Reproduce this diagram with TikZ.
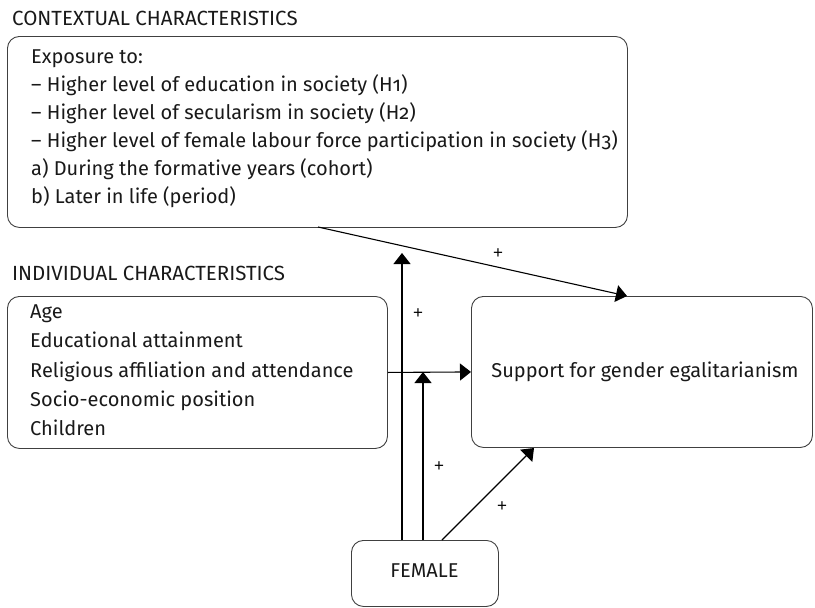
\documentclass[tikz,border=0pt]{standalone}
\usepackage{fontspec}
\setmainfont{Fira Sans}[Numbers=OldStyle]
\newfontfamily\plusfont{Liberation Sans}
\usetikzlibrary{arrows.meta}
\begin{document}
\begin{tikzpicture}[x=1pt,y=-1pt,
  box/.style={draw=black!75, line width=0.9pt, rounded corners=12pt, inner sep=0pt},
  txt/.style={anchor=base west, inner sep=0pt, font=\fontsize{20}{24}\selectfont, text=black!90},
  ttl/.style={txt, font=\fontsize{20.5}{24}\selectfont},
  arr/.style={draw=black, line width=1.1pt, -{Triangle[length=11pt,width=17pt]}},
  plus/.style={inner sep=0pt, font=\plusfont\fontsize{17}{20}\selectfont}]
\useasboundingbox (0,0) rectangle (815,608);
% titles
\node[ttl] (t1) at (12,25) {CONTEXTUAL CHARACTERISTICS};
\node[ttl] (t2) at (12,280) {INDIVIDUAL CHARACTERISTICS};
% boxes
\node[box, anchor=north west, minimum width=620pt, minimum height=191pt] (ctx) at (7,36) {};
\node[box, anchor=north west, minimum width=380pt, minimum height=152pt] (ind) at (7,296) {};
\node[box, anchor=north west, minimum width=341pt, minimum height=151pt] (sup) at (471,296) {};
\node[box, anchor=north west, minimum width=147pt, minimum height=66pt] (fem) at (351,540) {};
% box texts
\node[txt] (c1) at (31,63) {Exposure to:};
\node[txt] (c2) at (31,91) {– Higher level of education in society (H1)};
\node[txt] (c3) at (31,119) {– Higher level of secularism in society (H2)};
\node[txt] (c4) at (31,147) {– Higher level of female labour force participation in society (H3)};
\node[txt] (c5) at (31,175) {a) During the formative years (cohort)};
\node[txt] (c6) at (31,203) {b) Later in life (period)};
\node[txt] (i1) at (30,318) {Age};
\node[txt] (i2) at (30,347) {Educational attainment};
\node[txt] (i3) at (30,377) {Religious affiliation and attendance};
\node[txt] (i4) at (30,406) {Socio-economic position};
\node[txt] (i5) at (30,435) {Children};
\node[txt, anchor=base] (s1) at (645,377) {Support for gender egalitarianism};
\node[txt, anchor=base] (f1) at (424.5,577) {FEMALE};
% connector end points
\coordinate (a1s) at (318,227);
\coordinate (a1e) at (627,296);
\coordinate (a2s) at (402,540);
\coordinate (a2e) at (402,253);
\coordinate (a4s) at (423,540);
\coordinate (a4e) at (423,372);
\coordinate (a5s) at (442,540);
\coordinate (a5e) at (534,448);
% connectors
\draw[arr] (a1s) -- (a1e);
\draw[arr] (a2s) -- (a2e);
\draw[arr] (ind.east) -- (sup.west);
\draw[arr] (a4s) -- (a4e);
\draw[arr] (a5s) -- (a5e);
% labels
\node[plus] (p1) at (498,254) {+};
\node[plus] (p2) at (418,314) {+};
\node[plus] (p3) at (439,467) {+};
\node[plus] (p4) at (502,507) {+};
\end{tikzpicture}
\end{document}
